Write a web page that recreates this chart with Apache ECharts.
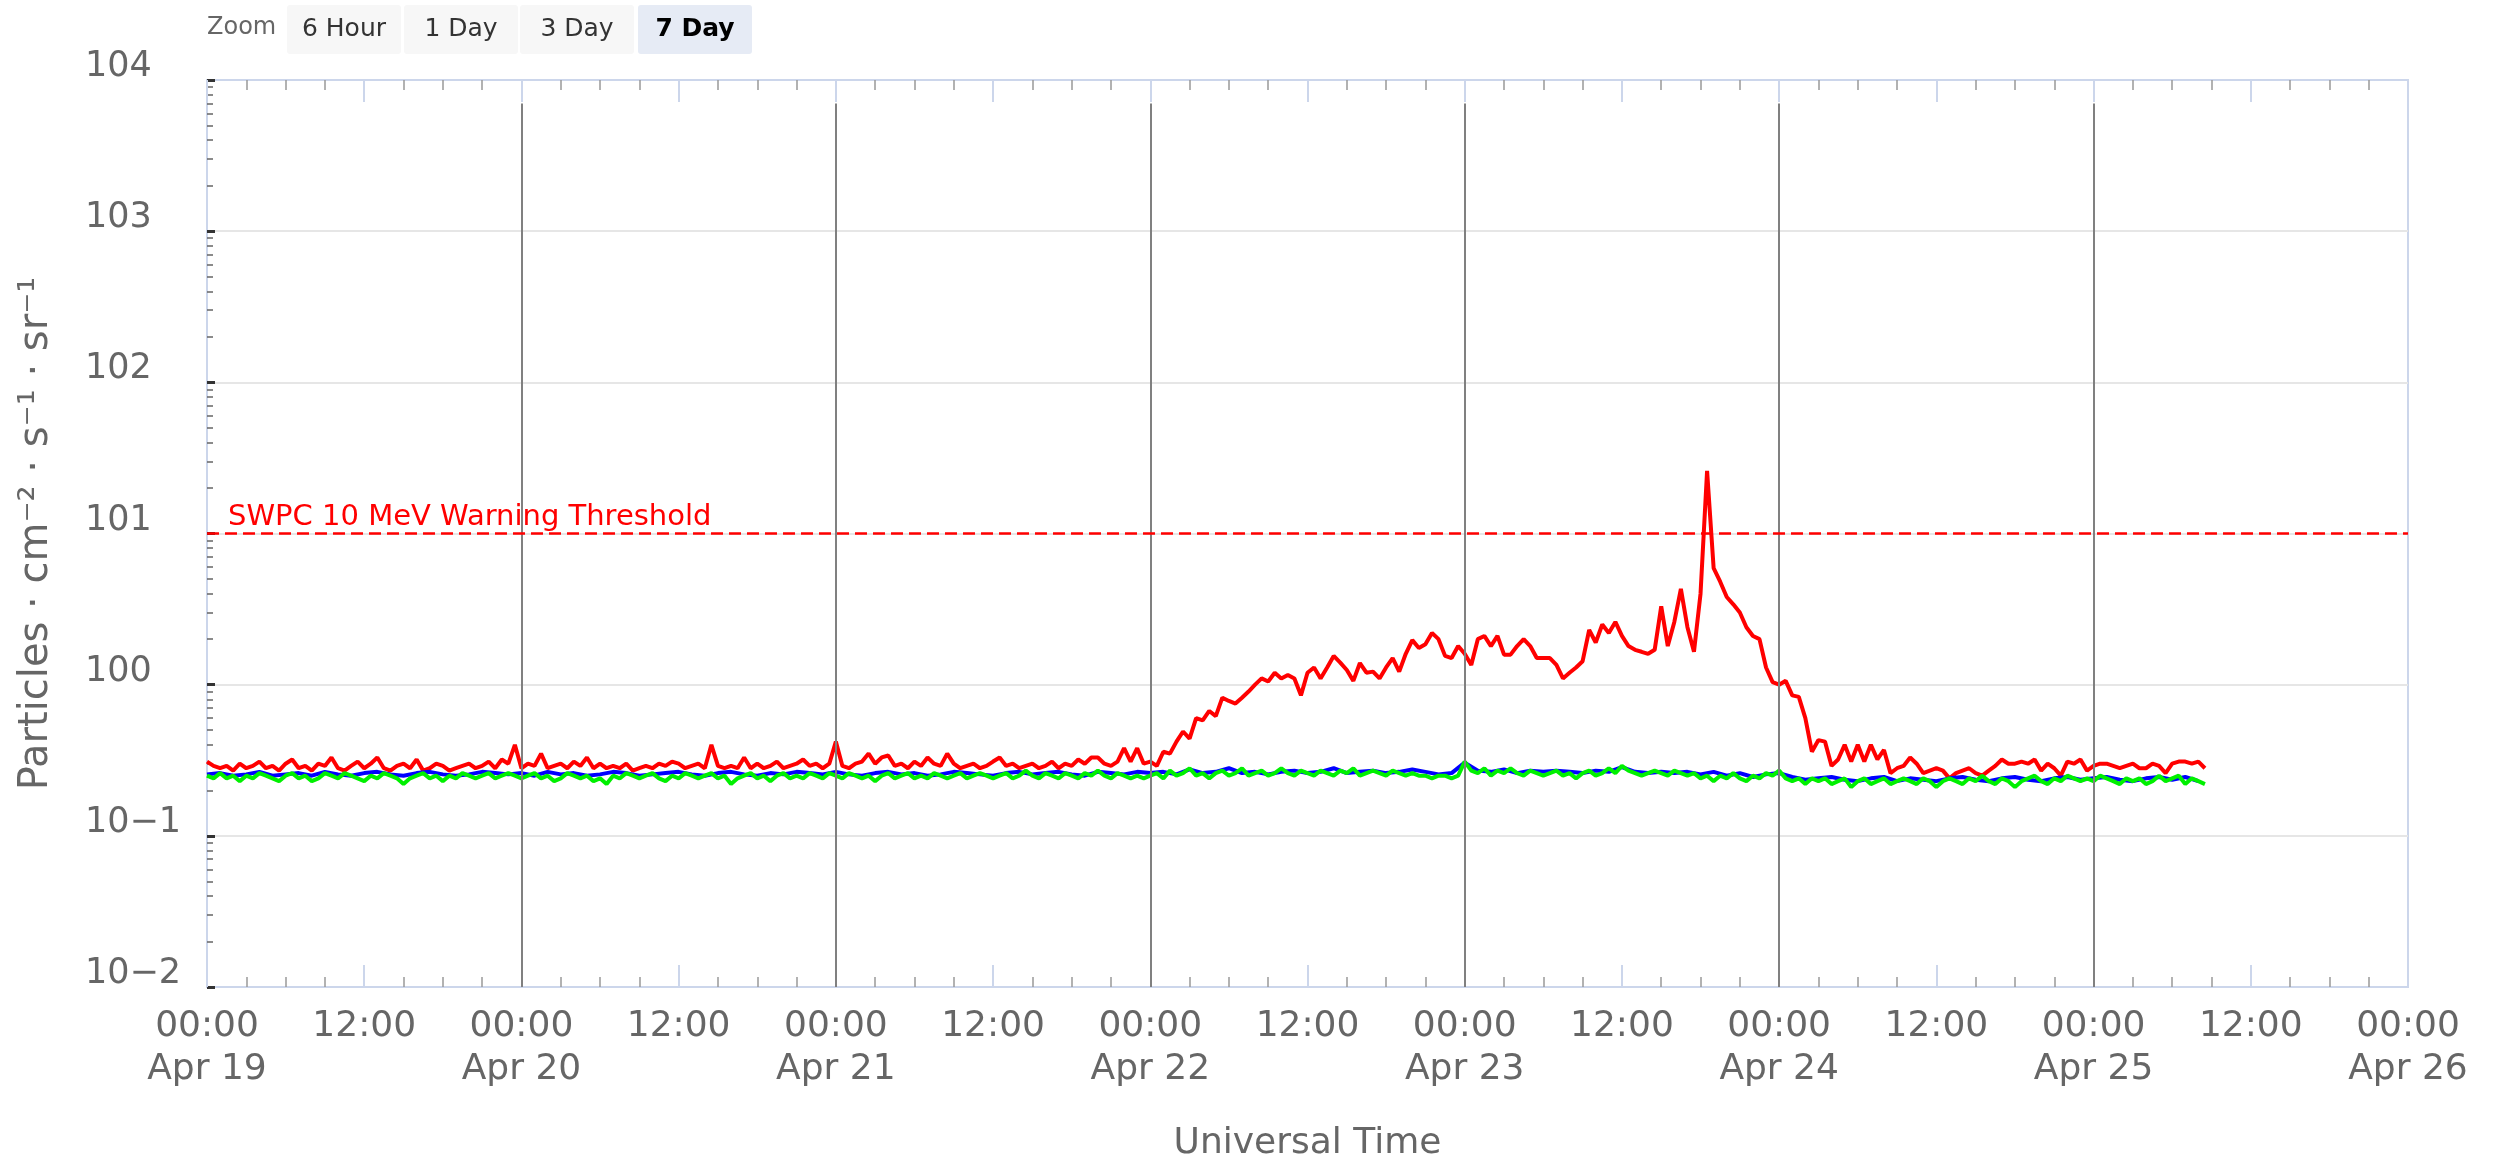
<!DOCTYPE html>
<html>
<head>
<meta charset="utf-8">
<title>Proton flux</title>
<script src="https://cdn.jsdelivr.net/npm/echarts@6/dist/echarts.min.js"></script>
<style>
  html, body { margin: 0; padding: 0; background: #fff; }
  #chart { width: 2501px; height: 1167px; }
</style>
</head>
<body>
<div id="chart"></div>
<script>
// hours since Apr 19 00:00 UTC
var dayLabels = ['Apr 19', 'Apr 20', 'Apr 21', 'Apr 22', 'Apr 23', 'Apr 24', 'Apr 25', 'Apr 26'];
var hourLabels = ['00:00', '12:00'];
var yTickLabels = ['10\u22122', '10\u22121', '100', '101', '102', '103', '104'];
var zoomButtons = ['6 Hour', '1 Day', '3 Day', '7 Day'];
var dayLines = [24, 48, 72, 96, 120, 144];
var thresholdValue = 10;
var thresholdText = 'SWPC 10 MeV Warning Threshold';

// red: one value every 30 minutes
var redValues = [
  0.31,0.29,0.28,0.29,0.27,0.30,0.28,0.29,0.31,0.28,0.29,0.27,0.30,0.32,0.28,0.29,0.27,0.30,0.29,0.33,0.28,0.27,0.29,0.31,
  0.28,0.30,0.33,0.28,0.27,0.29,0.30,0.28,0.32,0.27,0.28,0.30,0.29,0.27,0.28,0.29,0.30,0.28,0.29,0.31,0.28,0.32,0.30,0.40,
  0.28,0.30,0.29,0.35,0.28,0.29,0.30,0.28,0.31,0.29,0.33,0.28,0.30,0.28,0.29,0.28,0.30,0.27,0.28,0.29,0.28,0.30,0.29,0.31,
  0.30,0.28,0.29,0.30,0.28,0.40,0.29,0.28,0.29,0.28,0.33,0.28,0.30,0.28,0.29,0.31,0.28,0.29,0.30,0.32,0.29,0.30,0.28,0.30,
  0.42,0.29,0.28,0.30,0.31,0.35,0.30,0.33,0.34,0.29,0.30,0.28,0.31,0.29,0.33,0.30,0.29,0.35,0.30,0.28,0.29,0.30,0.28,0.29,
  0.31,0.33,0.29,0.30,0.28,0.29,0.30,0.28,0.29,0.31,0.28,0.30,0.29,0.32,0.30,0.33,0.33,0.30,0.29,0.31,0.38,0.31,0.38,0.30,
  0.31,0.29,0.36,0.35,0.42,0.49,0.44,0.60,0.58,0.67,0.62,0.82,0.78,0.75,0.82,0.90,1.00,1.10,1.05,1.20,1.10,1.16,1.10,0.85,
  1.20,1.30,1.10,1.30,1.55,1.40,1.25,1.06,1.39,1.20,1.22,1.10,1.30,1.50,1.22,1.60,1.97,1.75,1.85,2.20,2.00,1.55,1.50,1.80,
  1.60,1.35,2.00,2.10,1.80,2.10,1.58,1.58,1.80,2.00,1.80,1.50,1.50,1.50,1.35,1.10,1.20,1.30,1.43,2.30,1.90,2.50,2.20,2.60,
  2.10,1.80,1.70,1.65,1.60,1.70,3.30,1.80,2.60,4.30,2.40,1.65,4.00,26.0,5.90,4.80,3.80,3.40,3.00,2.40,2.10,2.00,1.30,1.04,
  1.00,1.06,0.85,0.83,0.60,0.36,0.43,0.42,0.29,0.32,0.40,0.31,0.40,0.31,0.40,0.32,0.37,0.26,0.28,0.29,0.33,0.30,0.26,0.27,
  0.28,0.27,0.24,0.26,0.27,0.28,0.26,0.25,0.27,0.29,0.32,0.30,0.30,0.31,0.30,0.32,0.27,0.30,0.28,0.25,0.31,0.30,0.32,0.27,
  0.29,0.30,0.30,0.29,0.28,0.29,0.30,0.28,0.28,0.30,0.29,0.26,0.30,0.31,0.31,0.30,0.31,0.28
];

// green: one value every 30 minutes
var greenValues = [
  0.25,0.24,0.26,0.24,0.25,0.23,0.25,0.24,0.26,0.25,0.24,0.23,0.25,0.26,0.24,0.25,0.23,0.24,0.26,0.25,0.24,0.26,0.25,0.24,
  0.23,0.25,0.24,0.26,0.25,0.24,0.22,0.24,0.25,0.26,0.24,0.25,0.23,0.25,0.24,0.26,0.25,0.24,0.25,0.26,0.24,0.25,0.26,0.25,
  0.24,0.25,0.26,0.24,0.25,0.23,0.24,0.26,0.25,0.24,0.25,0.23,0.24,0.22,0.25,0.24,0.26,0.25,0.24,0.25,0.26,0.24,0.23,0.25,
  0.24,0.26,0.25,0.24,0.25,0.26,0.24,0.25,0.22,0.24,0.25,0.26,0.24,0.25,0.23,0.25,0.26,0.24,0.25,0.24,0.26,0.25,0.24,0.26,
  0.25,0.24,0.26,0.25,0.24,0.25,0.23,0.25,0.26,0.24,0.25,0.26,0.24,0.25,0.24,0.26,0.25,0.24,0.25,0.26,0.24,0.25,0.26,0.25,
  0.24,0.25,0.26,0.24,0.25,0.27,0.25,0.24,0.26,0.25,0.24,0.26,0.25,0.24,0.26,0.25,0.27,0.25,0.24,0.26,0.25,0.24,0.25,0.24,
  0.25,0.26,0.24,0.27,0.25,0.26,0.28,0.25,0.26,0.24,0.26,0.27,0.25,0.26,0.28,0.25,0.26,0.27,0.25,0.26,0.28,0.26,0.25,0.27,
  0.26,0.25,0.27,0.26,0.25,0.27,0.26,0.28,0.25,0.26,0.27,0.26,0.25,0.27,0.26,0.25,0.26,0.25,0.25,0.24,0.25,0.25,0.24,0.25,
  0.31,0.27,0.26,0.28,0.25,0.27,0.26,0.28,0.26,0.25,0.27,0.26,0.25,0.26,0.27,0.25,0.26,0.24,0.26,0.27,0.25,0.26,0.28,0.26,
  0.29,0.27,0.26,0.25,0.26,0.27,0.26,0.25,0.27,0.26,0.25,0.26,0.24,0.25,0.23,0.25,0.24,0.26,0.24,0.23,0.25,0.24,0.26,0.25,
  0.27,0.24,0.23,0.24,0.22,0.24,0.23,0.24,0.22,0.23,0.24,0.21,0.23,0.24,0.22,0.23,0.24,0.22,0.23,0.24,0.23,0.22,0.24,0.23,
  0.21,0.23,0.24,0.23,0.22,0.24,0.23,0.25,0.23,0.22,0.24,0.23,0.21,0.23,0.24,0.25,0.23,0.22,0.24,0.23,0.25,0.24,0.23,0.24,
  0.23,0.25,0.24,0.23,0.22,0.24,0.23,0.24,0.22,0.23,0.25,0.23,0.24,0.25,0.22,0.24,0.23,0.22
];

// blue: one value every hour
var blueValues = [
  0.255,0.26,0.25,0.255,0.265,0.25,0.255,0.26,0.25,0.265,0.255,0.25,0.26,0.265,0.255,0.25,0.26,0.265,0.255,0.25,0.255,0.265,0.26,0.255,
  0.26,0.25,0.265,0.255,0.26,0.25,0.255,0.265,0.26,0.25,0.255,0.26,0.265,0.255,0.25,0.26,0.265,0.255,0.25,0.26,0.255,0.265,0.26,0.255,
  0.265,0.255,0.25,0.26,0.265,0.255,0.26,0.25,0.255,0.265,0.26,0.255,0.25,0.26,0.265,0.255,0.26,0.265,0.255,0.25,0.265,0.26,0.255,0.265,
  0.26,0.265,0.255,0.275,0.26,0.265,0.28,0.26,0.265,0.255,0.265,0.27,0.26,0.265,0.28,0.26,0.265,0.27,0.26,0.265,0.275,0.265,0.255,0.26,
  0.305,0.27,0.265,0.275,0.26,0.27,0.265,0.27,0.265,0.26,0.27,0.265,0.285,0.265,0.26,0.265,0.26,0.265,0.255,0.265,0.25,0.26,0.245,0.255,
  0.26,0.245,0.235,0.24,0.245,0.235,0.23,0.24,0.245,0.23,0.24,0.235,0.23,0.24,0.245,0.235,0.23,0.24,0.245,0.235,0.23,0.24,0.245,0.235,
  0.24,0.245,0.235,0.23,0.24,0.245,0.235,0.245,0.23
];

var FONT = 'DejaVu Sans';
var dayLineTop = 7000;

function toPoints(values, step) {
  return values.map(function (v, i) { return [i * step, v]; });
}

var chart = echarts.init(document.getElementById('chart'));

var buttonGraphics = [{
  type: 'text', left: 207, top: 16,
  style: { text: 'Zoom', fontSize: 24, fill: '#666', fontFamily: FONT }
}];
var btnX = [287, 404, 520, 638];
zoomButtons.forEach(function (name, i) {
  var selected = i === zoomButtons.length - 1;
  buttonGraphics.push({
    type: 'rect',
    shape: { x: btnX[i], y: 5, width: 114, height: 49, r: 3 },
    style: { fill: selected ? '#e6ebf5' : '#f7f7f7' }
  });
  buttonGraphics.push({
    type: 'text', x: btnX[i] + 57, y: 29,
    style: {
      text: name, fontSize: 25, fontFamily: FONT,
      fill: selected ? '#000' : '#333', fontWeight: selected ? 'bold' : 'normal',
      align: 'center', verticalAlign: 'middle'
    }
  });
});

var markData = dayLines.map(function (d) {
  return [{ coord: [d, dayLineTop], lineStyle: { color: '#808080', width: 2, type: 'solid' }, label: { show: false } },
          { coord: [d, 0.01] }];
});
markData.push({
  yAxis: thresholdValue,
  lineStyle: { color: '#ff0000', width: 2.5, type: [12, 6] },
  label: {
    show: true, formatter: thresholdText, position: 'insideStartTop',
    color: '#ff0000', fontSize: 29, fontFamily: FONT, distance: [21, 2]
  }
});

var xAxisBase = {
  type: 'value', min: 0, max: 168, interval: 12,
  axisLine: { show: true, lineStyle: { color: '#ccd6eb', width: 2 } },
  axisTick: { show: true, inside: true, length: 22, lineStyle: { color: '#ccd6eb', width: 2 } },
  minorTick: { show: true, splitNumber: 4, length: 10, lineStyle: { color: '#999', width: 1.5 } },
  splitLine: { show: false }
};

var option = {
  animation: false,
  backgroundColor: '#fff',
  graphic: buttonGraphics,
  grid: {
    left: 207, top: 80, width: 2201, height: 910,
    show: true, borderColor: '#ccd6eb', borderWidth: 2, backgroundColor: 'transparent'
  },
  xAxis: [
    Object.assign({}, xAxisBase, {
      position: 'bottom',
      name: 'Universal Time', nameLocation: 'middle', nameGap: 139,
      nameTextStyle: { fontSize: 36, color: '#666', fontFamily: FONT },
      axisLabel: {
        show: true, margin: 18, fontSize: 36, lineHeight: 43, color: '#666', fontFamily: FONT,
        formatter: function (v) {
          var h = Math.round(v);
          if (h % 24 === 0) return hourLabels[0] + '\n' + dayLabels[h / 24];
          return hourLabels[1];
        }
      }
    }),
    Object.assign({}, xAxisBase, {
      position: 'top',
      axisLabel: { show: false }
    })
  ],
  yAxis: [{
    type: 'log', logBase: 10, min: 0.01, max: 10000, interval: 1,
    name: 'Particles \u00b7 cm\u207b\u00b2 \u00b7 s\u207b\u00b9 \u00b7 sr\u207b\u00b9',
    nameLocation: 'middle', nameRotate: 90, nameGap: 150,
    nameTextStyle: { fontSize: 40, color: '#666', fontFamily: FONT },
    axisLine: { show: true, lineStyle: { color: '#ccd6eb', width: 2 } },
    axisTick: { show: true, inside: true, length: 8, lineStyle: { color: '#333', width: 3 } },
    minorTick: { show: true, splitNumber: 9, length: 6, lineStyle: { color: '#666', width: 1.5 } },
    splitLine: { show: true, lineStyle: { color: '#e6e6e6', width: 2 } },
    axisLabel: {
      align: 'left', margin: 122, fontSize: 35, color: '#666', fontFamily: FONT,
      verticalAlign: 'bottom', lineHeight: 26,
      formatter: function (v) {
        return yTickLabels[Math.round(Math.log10(v)) + 2];
      }
    }
  }],
  series: [
    {
      name: 'red', type: 'line', showSymbol: false, symbol: 'none',
      data: toPoints(redValues, 0.5),
      lineStyle: { color: '#ff0000', width: 4 }, itemStyle: { color: '#ff0000' },
      markLine: { silent: true, symbol: 'none', data: markData }
    },
    {
      name: 'blue', type: 'line', showSymbol: false, symbol: 'none',
      data: toPoints(blueValues, 1),
      lineStyle: { color: '#0000ff', width: 4 }, itemStyle: { color: '#0000ff' }
    },
    {
      name: 'green', type: 'line', showSymbol: false, symbol: 'none',
      data: toPoints(greenValues, 0.5),
      lineStyle: { color: '#00f000', width: 4 }, itemStyle: { color: '#00f000' }
    }
  ]
};

chart.setOption(option);
</script>
</body>
</html>
